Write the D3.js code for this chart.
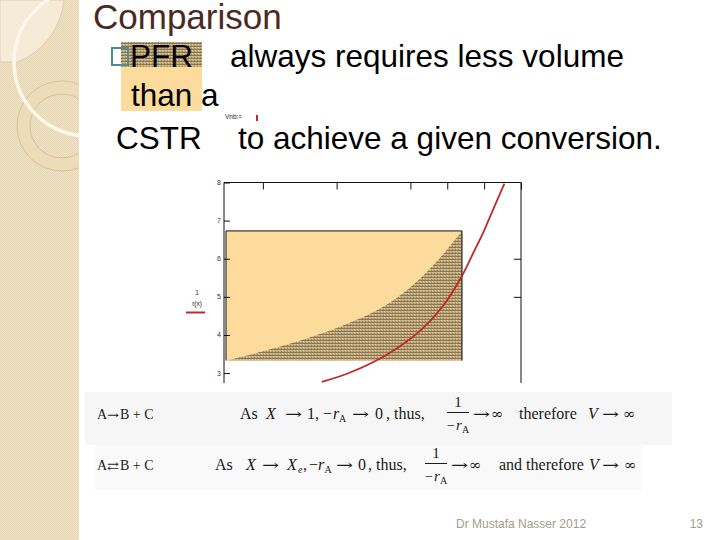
<!DOCTYPE html>
<html><head><meta charset="utf-8">
<script src="https://cdn.jsdelivr.net/npm/d3@7"></script>
<style>
html,body{margin:0;padding:0;background:#fff;}
svg{display:block;}
</style></head>
<body>
<script>
// ---- data ----
const title = "Comparison";
const yTickValues = [8, 7, 6, 5, 4, 3];
const yTickLabels = ["8", "7", "6", "5", "4", "3"];
const topTickValues = [0.1, 0.3, 0.5, 0.6, 0.7, 0.8];
const rightTickValues = [6, 5];
// CSTR rectangle (conversion, 1/-rA at exit, base value)
const cstrX = [0, 0.64];
const cstrLevel = 6.73;
const baseLevel = 3.33;
// PFR area boundary (1/-rA vs X)
const pfrX = [0, 0.1, 0.2, 0.3, 0.4, 0.46, 0.52, 0.58, 0.64];
const pfrY = [3.33, 3.57, 3.85, 4.18, 4.6, 4.95, 5.42, 6.02, 6.73];
// red curve
const redX = [0.26, 0.33, 0.40, 0.465, 0.53, 0.59, 0.637, 0.673, 0.700, 0.727, 0.755];
const redY = [2.77, 2.99, 3.29, 3.66, 4.14, 4.78, 5.5, 6.2, 6.74, 7.35, 7.97];

const W = 720, H = 540;
const svg = d3.select("body").append("svg").attr("width", W).attr("height", H);
const defs = svg.append("defs");

// textures
const band = defs.append("pattern").attr("id","band").attr("width",2).attr("height",2).attr("patternUnits","userSpaceOnUse");
band.append("rect").attr("width",2).attr("height",2).attr("fill","#efe1c3");
band.append("rect").attr("width",1).attr("height",1).attr("fill","#e8d7b4");
band.append("rect").attr("x",1).attr("y",1).attr("width",1).attr("height",1).attr("fill","#e8d7b4");

const hatch = defs.append("pattern").attr("id","hatch").attr("width",3).attr("height",3).attr("patternUnits","userSpaceOnUse");
hatch.append("rect").attr("width",3).attr("height",3).attr("fill","#c4ae80");
hatch.append("rect").attr("x",0).attr("y",1).attr("width",3).attr("height",1).attr("fill","#8a7550");
hatch.append("rect").attr("x",2).attr("y",0).attr("width",1).attr("height",1).attr("fill","#9c875f");
hatch.append("rect").attr("x",0).attr("y",2).attr("width",1).attr("height",1).attr("fill","#ddcda6");

// ---- left decorative band ----
defs.append("clipPath").attr("id","bandClip").append("rect").attr("x",0).attr("y",0).attr("width",79).attr("height",H);
const gb = svg.append("g").attr("clip-path","url(#bandClip)");
gb.append("rect").attr("width",79).attr("height",H).attr("fill","url(#band)");
gb.append("path").attr("d","M0,0 H64 A75,75 0 0 1 18,62 H0 Z").attr("fill","#f5ebd7").attr("stroke","#d8c6a0").attr("stroke-width",0.7);
gb.append("path").attr("d", d3.arc()({innerRadius:32,outerRadius:45,startAngle:0,endAngle:2*Math.PI}))
  .attr("transform","translate(62,126)").attr("fill","#eddcb8").attr("stroke","#d3bd92").attr("stroke-width",0.8);
gb.append("circle").attr("cx",88).attr("cy",62).attr("r",74).attr("fill","none").attr("stroke","#fcf7ea").attr("stroke-width",3.5);

// ---- title and bullet text ----
svg.append("text").attr("x",93).attr("y",29).attr("font-family","Liberation Sans, Arial, sans-serif")
  .attr("font-size",35).attr("fill","#4b2a22").text(title);

svg.append("rect").attr("x",121).attr("y",42).attr("width",81).attr("height",25).attr("fill","url(#hatch)");
svg.append("rect").attr("x",121).attr("y",67).attr("width",81).attr("height",44).attr("fill","#fcdb9c");
svg.append("rect").attr("x",112).attr("y",48).attr("width",16).attr("height",17).attr("fill","none").attr("stroke","#4f8a97").attr("stroke-width",2);

const body = svg.append("g").attr("font-family","Liberation Sans, Arial, sans-serif").attr("font-size",31.5).attr("fill","#000");
body.append("text").attr("x",130).attr("y",67).text("PFR");
body.append("text").attr("x",230).attr("y",67).text("always requires less volume");
body.append("text").attr("x",131).attr("y",106).text("than a");
body.append("text").attr("x",116).attr("y",149).text("CSTR");
body.append("text").attr("x",238).attr("y",149).text("to achieve a given conversion.");
svg.append("text").attr("x",225).attr("y",119).attr("font-family","Liberation Sans, Arial, sans-serif").attr("font-size",6.5).attr("fill","#222").text("Vnb:=");
svg.append("rect").attr("x",256).attr("y",115).attr("width",2).attr("height",6).attr("fill","#c0282a");

// ---- chart ----
const x = d3.scaleLinear().domain([0, 0.8]).range([226, 521]);
const y = d3.scaleLinear().domain([2.74, 8]).range([383, 182.5]);

defs.append("clipPath").attr("id","plotClip").append("rect")
  .attr("x", x(0)-3).attr("y", y(8)-1).attr("width", x(0.8)-x(0)+5).attr("height", y(2.74)-y(8)+1);
const g = svg.append("g").attr("clip-path","url(#plotClip)");

// CSTR rectangle
g.append("rect").attr("x", x(cstrX[0])).attr("y", y(cstrLevel))
  .attr("width", x(cstrX[1]) - x(cstrX[0])).attr("height", y(baseLevel) - y(cstrLevel))
  .attr("fill","#fcdb9c");
// PFR area
const pfr = pfrX.map((d,i)=>[d, pfrY[i]]);
g.append("path").datum(pfr)
  .attr("d", d3.area().x(d=>x(d[0])).y0(y(baseLevel)).y1(d=>y(d[1])).curve(d3.curveCatmullRom))
  .attr("fill","url(#hatch)");
g.append("path")
  .attr("d", `M${x(cstrX[0])},${y(baseLevel)}V${y(cstrLevel)}H${x(cstrX[1])}V${y(baseLevel)}`)
  .attr("fill","none").attr("stroke","#111").attr("stroke-width",1);

// frame
const frame = svg.append("g").attr("stroke","#111").attr("stroke-width",1).attr("fill","none");
frame.append("line").attr("x1",x(0)-2).attr("x2",x(0)-2).attr("y1",y(8)).attr("y2",y(2.74));
frame.append("line").attr("x1",x(0)-2).attr("x2",x(0.8)).attr("y1",y(8)).attr("y2",y(8));
frame.append("line").attr("x1",x(0.8)).attr("x2",x(0.8)).attr("y1",y(8)).attr("y2",y(2.74));

// left axis (ticks inward)
const leftAxis = d3.axisRight(y).tickValues(yTickValues).tickSize(6).tickFormat("");
const la = svg.append("g").attr("transform",`translate(${x(0)-2},0)`).call(leftAxis);
la.select(".domain").remove();
la.selectAll("line").attr("stroke","#111");
svg.append("g").selectAll("text").data(yTickValues).join("text")
  .attr("x", x(0)-5).attr("y", d=>y(d)+2.5).attr("text-anchor","end")
  .attr("font-family","Liberation Sans, Arial, sans-serif").attr("font-size",7).attr("fill","#333")
  .text((d,i)=>yTickLabels[i]);
// top axis (ticks inward)
const topAxis = d3.axisBottom(x).tickValues(topTickValues).tickSize(7).tickFormat("");
const ta = svg.append("g").attr("transform",`translate(0,${y(8)})`).call(topAxis);
ta.select(".domain").remove();
ta.selectAll("line").attr("stroke","#111");
// right axis (ticks inward)
const rightAxis = d3.axisLeft(y).tickValues(rightTickValues).tickSize(7).tickFormat("");
const ra = svg.append("g").attr("transform",`translate(${x(0.8)},0)`).call(rightAxis);
ra.select(".domain").remove();
ra.selectAll("line").attr("stroke","#111");

// red curve
const red = redX.map((d,i)=>[d, redY[i]]);
g.append("path").datum(red)
  .attr("d", d3.line().x(d=>x(d[0])).y(d=>y(d[1])).curve(d3.curveCatmullRom))
  .attr("fill","none").attr("stroke","#c0282a").attr("stroke-width",1.8);

// y label
const yl = svg.append("g").attr("font-family","Liberation Sans, Arial, sans-serif").attr("font-size",6.5).attr("fill","#222").attr("text-anchor","middle");
yl.append("text").attr("x",197).attr("y",295).text("1");
yl.append("text").attr("x",197).attr("y",306).text("r(x)");
svg.append("line").attr("x1",186).attr("x2",205).attr("y1",312.5).attr("y2",312.5).attr("stroke","#c0282a").attr("stroke-width",2);

// ---- equation panels ----
svg.append("rect").attr("x",85).attr("y",392).attr("width",587).attr("height",53).attr("fill","#f6f6f6");
svg.append("rect").attr("x",95).attr("y",445).attr("width",547).attr("height",45).attr("fill","#f9f9f9");

const eq = svg.append("g").attr("font-family","Liberation Serif, Times New Roman, serif").attr("fill","#1a1a1a").attr("font-size",16);
function seg(xx, yy, t, opts={}) {
  const e = eq.append("text").attr("x",xx).attr("y",yy).text(t);
  if (opts.italic) e.attr("font-style","italic");
  if (opts.size) e.attr("font-size",opts.size);
  if (opts.anchor) e.attr("text-anchor",opts.anchor);
  if (opts.len) e.attr("textLength",opts.len).attr("lengthAdjust","spacingAndGlyphs");
  if (opts.sym) e.attr("font-family","DejaVu Serif, serif");
  return e;
}
function arrow(xx, yy) { return seg(xx, yy, "→", {sym:true, size:15, len:17}); }
function inf(xx, yy) { return seg(xx, yy, "∞", {sym:true, size:15}); }
function frac(cx, yb) {
  seg(cx, yb-12, "1", {anchor:"middle", size:15});
  eq.append("line").attr("x1",cx-11).attr("x2",cx+11).attr("y1",yb-6.5).attr("y2",yb-6.5).attr("stroke","#1a1a1a").attr("stroke-width",1);
  seg(cx-11, yb+11, "−", {size:14});
  seg(cx-2, yb+11, "r", {italic:true, size:15});
  seg(cx+4, yb+14, "A", {size:10});
}
// row 1
let b = 419;
seg(97, b, "A", {size:14});
seg(107, b, "→", {sym:true, size:12, len:12});
seg(120, b, "B + C", {size:14});
seg(240, b, "As");
seg(266, b, "X", {italic:true});
arrow(285, b);
seg(307, b, "1, −");
seg(333, b, "r", {italic:true});
seg(339, b+3, "A", {size:10});
arrow(352, b);
seg(375, b, "0");
seg(386, b, ", thus,");
frac(458, b);
arrow(473, b);
inf(491, b);
seg(519, b, "therefore");
seg(588, b, "V", {italic:true});
arrow(602, b);
inf(623, b);
// row 2
b = 470;
seg(97, b, "A", {size:14});
seg(107, b, "⇄", {sym:true, size:12, len:12});
seg(120, b, "B + C", {size:14});
seg(215, b, "As");
seg(246, b, "X", {italic:true});
arrow(262, b);
seg(287, b, "X", {italic:true});
seg(298, b+3, "e", {italic:true, size:10});
seg(303, b, ",");
seg(309, b, "−");
seg(318, b, "r", {italic:true});
seg(324.5, b+3, "A", {size:10});
arrow(336, b);
seg(358, b, "0");
seg(368, b, ", thus,");
frac(436, b);
arrow(451, b);
inf(469, b);
seg(499, b, "and therefore");
seg(589, b, "V", {italic:true});
arrow(602, b);
inf(624, b);

// ---- footer ----
const ft = svg.append("g").attr("font-family","Liberation Sans, Arial, sans-serif").attr("font-size",12).attr("fill","#a39d8d");
ft.append("text").attr("x",456).attr("y",528).text("Dr Mustafa Nasser 2012");
ft.append("text").attr("x",703).attr("y",528).attr("text-anchor","end").text("13");
</script>
</body></html>
